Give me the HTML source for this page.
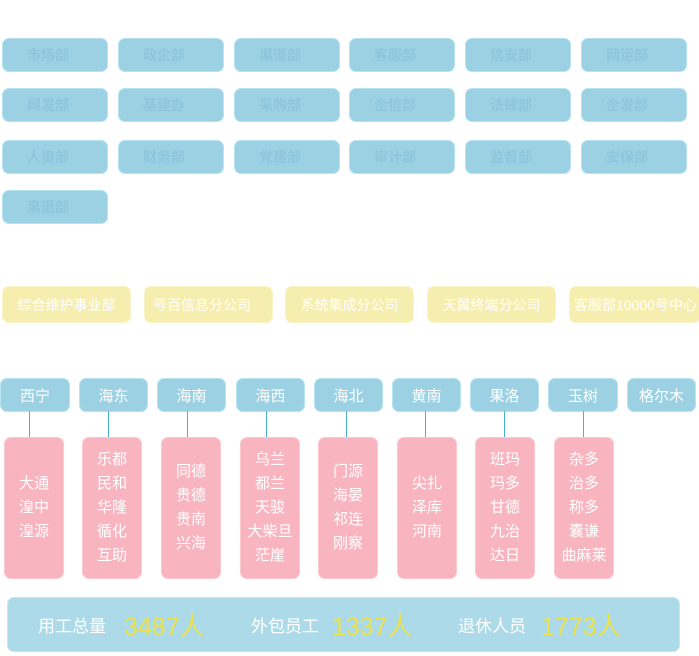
<!DOCTYPE html>
<html><head><meta charset="utf-8"><style>
*{margin:0;padding:0;box-sizing:border-box}
body{width:699px;height:653px;background:#fff;position:relative;overflow:hidden;font-family:"Liberation Sans","Noto Sans CJK SC",sans-serif}
.b{position:absolute;display:flex;align-items:center;justify-content:center;border-radius:7px}
.t{width:106px;height:34px;background:#9cd1e3;border:1px solid #b5e3f2;color:#8ec6dc;font-size:14px;font-weight:bold;padding-right:14px}
.y{height:37px;background:#f6eeae;border:1px solid #faf3c8;color:#fff;font-size:14px;white-space:nowrap;overflow:hidden}
.r{height:34px;background:#9cd1e3;border:1px solid #b5e3f2;color:#fff;font-size:15px}
.p{top:437px;width:60px;height:142px;background:#f8b4bf;border:1px solid #fbc8d0;color:#fff;font-size:15px;line-height:24px;text-align:center;flex-direction:column}
.l{position:absolute;top:411px;width:1px;height:26px;background:#4ab0d0}
</style></head><body>
<div class="b t" style="left:2px;top:38px">市场部</div>
<div class="b t" style="left:118px;top:38px">政企部</div>
<div class="b t" style="left:234px;top:38px">渠道部</div>
<div class="b t" style="left:349px;top:38px">客服部</div>
<div class="b t" style="left:465px;top:38px">信安部</div>
<div class="b t" style="left:581px;top:38px">网运部</div>
<div class="b t" style="left:2px;top:88px">网发部</div>
<div class="b t" style="left:118px;top:88px">基建办</div>
<div class="b t" style="left:234px;top:88px">采购部</div>
<div class="b t" style="left:349px;top:88px">企信部</div>
<div class="b t" style="left:465px;top:88px">法律部</div>
<div class="b t" style="left:581px;top:88px">企发部</div>
<div class="b t" style="left:2px;top:140px">人资部</div>
<div class="b t" style="left:118px;top:140px">财务部</div>
<div class="b t" style="left:234px;top:140px">党建部</div>
<div class="b t" style="left:349px;top:140px">审计部</div>
<div class="b t" style="left:465px;top:140px">监督部</div>
<div class="b t" style="left:581px;top:140px">安保部</div>
<div class="b t" style="left:2px;top:190px">离退部</div>

<div class="b y" style="left:2px;top:286px;width:129px">综合维护事业部</div>
<div class="b y" style="left:144px;top:286px;width:129px;justify-content:flex-start;padding-left:8px">号百信息分公司</div>
<div class="b y" style="left:285px;top:286px;width:129px">系统集成分公司</div>
<div class="b y" style="left:427px;top:286px;width:129px">天翼终端分公司</div>
<div class="b y" style="left:569px;top:286px;width:132px;justify-content:flex-start;padding-left:4px">客服部10000号中心</div>

<div class="b r" style="left:0;top:378px;width:70px">西宁</div>
<div class="b r" style="left:79px;top:378px;width:69px">海东</div>
<div class="b r" style="left:157px;top:378px;width:69px">海南</div>
<div class="b r" style="left:236px;top:378px;width:69px">海西</div>
<div class="b r" style="left:314px;top:378px;width:69px">海北</div>
<div class="b r" style="left:392px;top:378px;width:69px">黄南</div>
<div class="b r" style="left:470px;top:378px;width:69px">果洛</div>
<div class="b r" style="left:548px;top:378px;width:70px">玉树</div>
<div class="b r" style="left:627px;top:378px;width:69px">格尔木</div>

<div class="l" style="left:29px"></div>
<div class="l" style="left:108px"></div>
<div class="l" style="left:187px"></div>
<div class="l" style="left:266px"></div>
<div class="l" style="left:346px"></div>
<div class="l" style="left:425px"></div>
<div class="l" style="left:504px"></div>
<div class="l" style="left:583px"></div>

<div class="b p" style="left:4px">大通<br>湟中<br>湟源</div>
<div class="b p" style="left:82px">乐都<br>民和<br>华隆<br>循化<br>互助</div>
<div class="b p" style="left:161px">同德<br>贵德<br>贵南<br>兴海</div>
<div class="b p" style="left:240px">乌兰<br>都兰<br>天骏<br>大柴旦<br>茫崖</div>
<div class="b p" style="left:318px">门源<br>海晏<br>祁连<br>刚察</div>
<div class="b p" style="left:397px">尖扎<br>泽库<br>河南</div>
<div class="b p" style="left:475px">班玛<br>玛多<br>甘德<br>九治<br>达日</div>
<div class="b p" style="left:554px">杂多<br>治多<br>称多<br>囊谦<br>曲麻莱</div>

<div style="position:absolute;left:7px;top:597px;width:673px;height:55px;background:#acdae8;border:1px solid #c2e8f4;border-radius:7px;color:#fff;font-size:17px;line-height:58px;white-space:nowrap">
<span style="position:absolute;left:30px">用工总量</span><span style="position:absolute;left:116px;color:#ece24a;font-size:25px">3487人</span>
<span style="position:absolute;left:243px">外包员工</span><span style="position:absolute;left:324px;color:#ece24a;font-size:25px">1337人</span>
<span style="position:absolute;left:450px">退休人员</span><span style="position:absolute;left:533px;color:#ece24a;font-size:25px">1773人</span>
</div>
</body></html>
